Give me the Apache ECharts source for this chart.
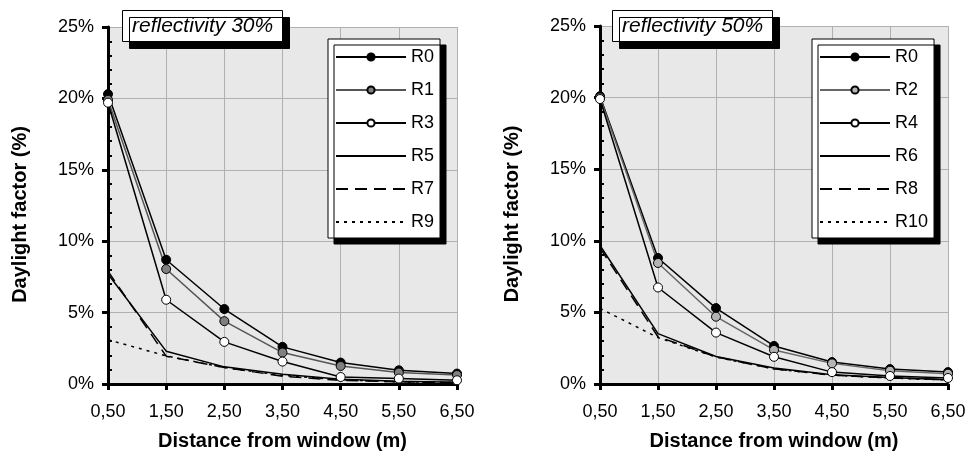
<!DOCTYPE html>
<html>
<head>
<meta charset="utf-8">
<script src="https://cdn.jsdelivr.net/npm/echarts@6/dist/echarts.min.js"></script>
<style>
  html, body { margin: 0; padding: 0; background: #fff; }
  #main { width: 970px; height: 456px; }
</style>
</head>
<body>
<div id="main"></div>
<script>
const distancias = ['0,50', '1,50', '2,50', '3,50', '4,50', '5,50', '6,50'];

// reflectivity 30%
const r0a = [20.3, 8.7, 5.25, 2.6, 1.5, 0.96, 0.73];
const r1a = [19.9, 8.05, 4.4, 2.2, 1.26, 0.8, 0.63];
const r3a = [19.7, 5.9, 2.95, 1.57, 0.49, 0.38, 0.26];
const r5a = [7.7, 2.3, 1.2, 0.68, 0.33, 0.2, 0.13];
const r7a = [7.9, 1.95, 1.15, 0.55, 0.25, 0.15, 0.1];
const r9a = [3.1, 1.97, 1.15, 0.6, 0.3, 0.15, 0.1];

// reflectivity 50%
const r0b = [20.1, 8.8, 5.3, 2.66, 1.53, 1.04, 0.83];
const r2b = [20.0, 8.45, 4.7, 2.38, 1.44, 0.93, 0.72];
const r4b = [19.9, 6.74, 3.59, 1.9, 0.83, 0.56, 0.42];
const r6b = [9.67, 3.52, 1.92, 1.11, 0.65, 0.45, 0.3];
const r8b = [9.5, 3.3, 1.9, 1.05, 0.62, 0.42, 0.3];
const r10b = [5.28, 3.24, 1.88, 1.05, 0.62, 0.42, 0.28];

const yTicks = [0, 25, 5];

const fuente = 'Liberation Sans, Arial, sans-serif';

function linea(nombre, datos, idx, tipo) {
    return {
        name: nombre, type: 'line', data: datos,
        xAxisIndex: idx, yAxisIndex: idx * 2,
        symbol: 'none', clip: false, silent: true,
        lineStyle: { color: '#000', width: 1.5, type: tipo },
        itemStyle: { color: '#000' }
    };
}
function conMarca(nombre, datos, idx, relleno, colorLinea) {
    return {
        name: nombre, type: 'line', data: datos,
        xAxisIndex: idx, yAxisIndex: idx * 2,
        symbol: 'circle', symbolSize: 9, clip: false, silent: true,
        lineStyle: { color: colorLinea, width: 1.5 },
        itemStyle: { color: relleno, borderColor: '#000', borderWidth: 1 }
    };
}
function leyenda(nombres, left) {
    return {
        left: left, top: 39, orient: 'vertical',
        itemWidth: 70, itemHeight: 9, itemGap: 15,
        padding: [9, 6, 7, 7],
        selectedMode: false,
        backgroundColor: '#fff', borderColor: '#000', borderWidth: 1,
        shadowColor: '#000', shadowBlur: 0, shadowOffsetX: 6, shadowOffsetY: 6,
        textStyle: { fontFamily: fuente, fontSize: 18, color: '#000' },
        data: nombres.map((n, i) => i < 3 ? { name: n } : { name: n, itemStyle: { opacity: 0 } })
    };
}
function titulo(texto, left) {
    return {
        text: texto, left: left, top: 10,
        padding: [6, 10, 5, 10],
        backgroundColor: '#fff', borderColor: '#000', borderWidth: 1,
        shadowColor: '#000', shadowBlur: 0, shadowOffsetX: 7, shadowOffsetY: 7,
        textStyle: { fontFamily: fuente, fontSize: 21, fontStyle: 'italic', fontWeight: 'normal', color: '#000' }
    };
}
function ejeX(g) {
    return {
        type: 'category', gridIndex: g, data: distancias, boundaryGap: false,
        name: 'Distance from window (m)', nameLocation: 'middle', nameGap: 47,
        nameTextStyle: { fontFamily: fuente, fontSize: 20, fontWeight: 'bold', color: '#000' },
        axisLine: { lineStyle: { color: '#000', width: 3 } },
        axisTick: { show: true, length: 6, alignWithLabel: true, lineStyle: { color: '#000', width: 3 } },
        axisLabel: { fontFamily: fuente, fontSize: 18, color: '#000', margin: 19 },
        splitLine: { show: true, lineStyle: { color: '#b0b0b0', width: 1 } }
    };
}
function ejeY(g) {
    return {
        type: 'value', gridIndex: g, min: yTicks[0], max: yTicks[1], interval: yTicks[2],
        name: 'Daylight factor (%)', nameLocation: 'middle', nameGap: 78,
        nameTextStyle: { fontFamily: fuente, fontSize: 20, fontWeight: 'bold', color: '#000', padding: [0, 18, 0, 0] },
        axisLine: { show: true, lineStyle: { color: '#000', width: 3 } },
        axisTick: { show: true, length: 6, lineStyle: { color: '#000', width: 3 } },
        axisLabel: { fontFamily: fuente, fontSize: 18, color: '#000', margin: 14, formatter: '{value}%' },
        splitLine: { show: true, lineStyle: { color: '#b0b0b0', width: 1 } }
    };
}
// eje auxiliar solo para las marcas menores hacia dentro
function ejeMenor(g, ancho) {
    return {
        type: 'value', gridIndex: g, min: yTicks[0], max: yTicks[1], interval: yTicks[2],
        position: 'right', offset: -ancho,
        axisLine: { show: false }, axisTick: { show: false }, axisLabel: { show: false },
        splitLine: { show: false },
        minorTick: { show: true, splitNumber: 5, length: 4, lineStyle: { color: '#000', width: 2 } }
    };
}

const grids = [
    { left: 108, top: 27, width: 349, height: 357 },
    { left: 600, top: 26, width: 348, height: 360 }
];

const chart = echarts.init(document.getElementById('main'));
chart.setOption({
    animation: false,
    backgroundColor: '#fff',
    title: [titulo('reflectivity 30%', 122), titulo('reflectivity 50%', 612)],
    legend: [leyenda(['R0', 'R1', 'R3', 'R5', 'R7', 'R9'], 328), leyenda(['R0', 'R2', 'R4', 'R6', 'R8', 'R10'], 812)],
    grid: grids.map(g => Object.assign({ show: true, backgroundColor: '#e8e8e8', borderWidth: 0 }, g)),
    xAxis: [ejeX(0), ejeX(1)],
    yAxis: [ejeY(0), ejeMenor(0, 349), ejeY(1), ejeMenor(1, 348)],
    series: [
        linea('R9', r9a, 0, [3, 5]),
        linea('R7', r7a, 0, [12, 7]),
        linea('R5', r5a, 0, 'solid'),
        conMarca('R0', r0a, 0, '#000', '#000'),
        conMarca('R1', r1a, 0, '#808080', '#555'),
        conMarca('R3', r3a, 0, '#fff', '#000'),
        linea('R10', r10b, 1, [3, 5]),
        linea('R8', r8b, 1, [12, 7]),
        linea('R6', r6b, 1, 'solid'),
        conMarca('R0', r0b, 1, '#000', '#000'),
        conMarca('R2', r2b, 1, '#b4b4b4', '#666'),
        conMarca('R4', r4b, 1, '#fff', '#000')
    ]
});
</script>
</body>
</html>
